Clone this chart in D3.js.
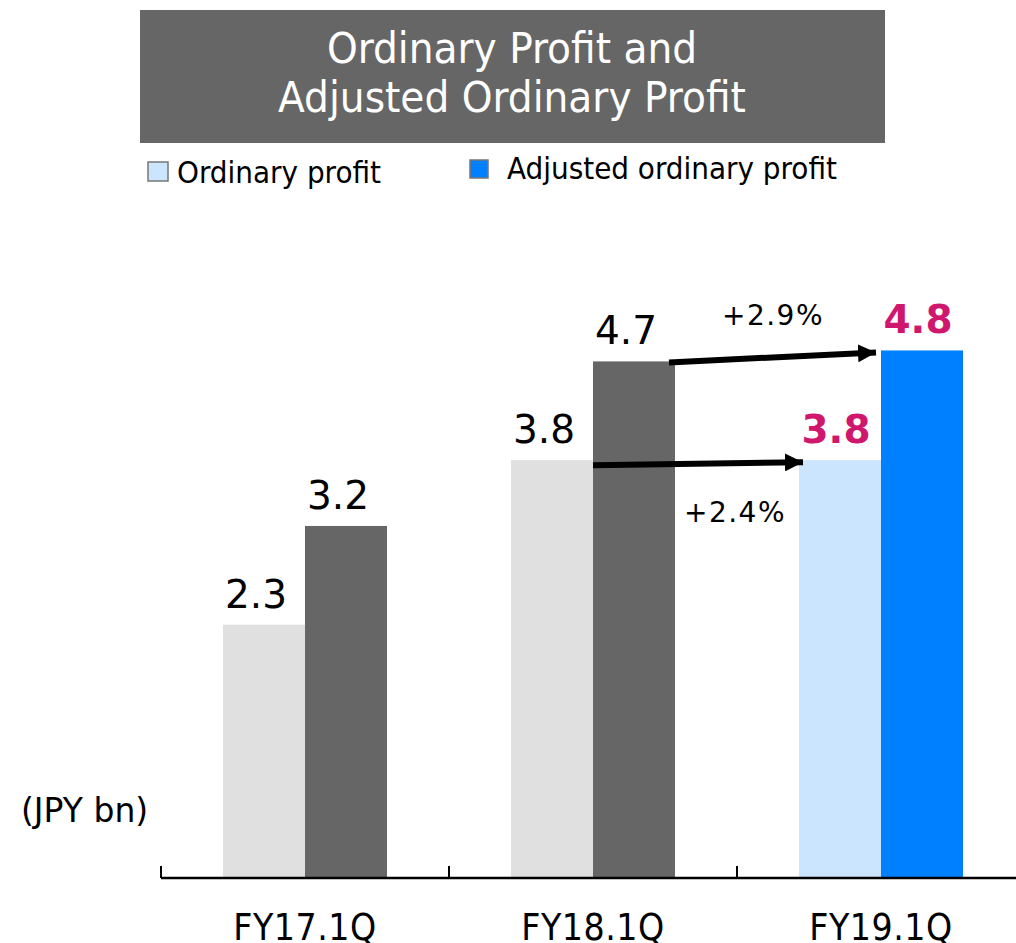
<!DOCTYPE html>
<html><head><meta charset="utf-8">
<script src="https://cdn.jsdelivr.net/npm/d3@7"></script>
<style>body{margin:0;background:#fff}svg{display:block}</style>
</head><body>
<script>
const categories = ["FY17.1Q", "FY18.1Q", "FY19.1Q"];
const ordinary = [2.3, 3.8, 3.8];
const adjusted = [3.2, 4.7, 4.8];
const growthLabels = ["+2.9%", "+2.4%"];
const titleLines = ["Ordinary Profit and", "Adjusted Ordinary Profit"];
const legendLabels = ["Ordinary profit", "Adjusted ordinary profit"];
const unitLabel = "(JPY bn)";

const W = 1016, H = 943;
const svg = d3.select("body").append("svg").attr("width", W).attr("height", H);
const defs = svg.append("defs");
defs.append("marker").attr("id", "ah").attr("viewBox", "0 0 10 10").attr("refX", 10).attr("refY", 5)
  .attr("markerWidth", 3).attr("markerHeight", 3).attr("orient", "auto").attr("markerUnits", "strokeWidth")
  .append("path").attr("d", "M0,0 L10,5 L0,10 Z").attr("fill", "#000");

const base = 877;
const x = d3.scaleBand().domain(categories).range([161, 1025]).paddingInner(0).paddingOuter(0);
const y = d3.scaleLinear().domain([0, 1]).range([base, base - 109.7]);
const bw = 82;

const lightCol = ["#e0e0e0", "#e0e0e0", "#cce5ff"];
const darkCol = ["#666666", "#666666", "#0080ff"];
const COND = "DejaVu Sans Condensed, DejaVu Sans";

// title box
svg.append("rect").attr("x", 140).attr("y", 10).attr("width", 745).attr("height", 133).attr("fill", "#666666");
svg.selectAll("text.title").data(titleLines).join("text").attr("class", "title")
  .attr("x", 512).attr("y", (d, i) => 63 + i * 49).attr("text-anchor", "middle")
  .attr("font-family", COND).attr("font-size", 43.5).attr("fill", "#fff").text(d => d);

// legend
svg.append("rect").attr("x", 148).attr("y", 162).attr("width", 20).attr("height", 19).attr("fill", "#cce5ff").attr("stroke", "#777").attr("stroke-width", 1.5);
svg.append("text").attr("x", 177).attr("y", 183).attr("font-family", COND).attr("font-size", 31).attr("fill", "#000").text(legendLabels[0]);
svg.append("rect").attr("x", 470).attr("y", 160).attr("width", 18).attr("height", 18).attr("fill", "#0080ff").attr("stroke", "#777").attr("stroke-width", 1.5);
svg.append("text").attr("x", 507).attr("y", 179).attr("font-family", COND).attr("font-size", 31).attr("fill", "#000").text(legendLabels[1]);

// bars
const cx = c => x(c) + x.bandwidth() / 2;
svg.selectAll("rect.ord").data(categories).join("rect").attr("class", "ord")
  .attr("x", c => cx(c) - bw).attr("width", bw)
  .attr("y", (c, i) => y(ordinary[i])).attr("height", (c, i) => base - y(ordinary[i]))
  .attr("fill", (c, i) => lightCol[i]);
svg.selectAll("rect.adj").data(categories).join("rect").attr("class", "adj")
  .attr("x", c => cx(c)).attr("width", bw)
  .attr("y", (c, i) => y(adjusted[i])).attr("height", (c, i) => base - y(adjusted[i]))
  .attr("fill", (c, i) => darkCol[i]);

// value labels
const isLast = i => i === categories.length - 1;
const shift = i => isLast(i) ? -4 : -8;
svg.selectAll("text.vo").data(categories).join("text").attr("class", "vo")
  .attr("x", (c, i) => cx(c) - bw / 2 + shift(i)).attr("y", (c, i) => y(ordinary[i]) - 17)
  .attr("text-anchor", "middle").attr("font-family", "DejaVu Sans").attr("font-size", 39)
  .attr("font-weight", (c, i) => isLast(i) ? "bold" : "normal")
  .attr("fill", (c, i) => isLast(i) ? "#d0176e" : "#000")
  .text((c, i) => ordinary[i].toFixed(1));
svg.selectAll("text.va").data(categories).join("text").attr("class", "va")
  .attr("x", (c, i) => cx(c) + bw / 2 + shift(i)).attr("y", (c, i) => y(adjusted[i]) - 17)
  .attr("text-anchor", "middle").attr("font-family", "DejaVu Sans").attr("font-size", 39)
  .attr("font-weight", (c, i) => isLast(i) ? "bold" : "normal")
  .attr("fill", (c, i) => isLast(i) ? "#d0176e" : "#000")
  .text((c, i) => adjusted[i].toFixed(1));

// arrows
const c1 = categories[1], c2 = categories[2];
svg.append("line").attr("x1", cx(c1) + bw - 6).attr("y1", y(adjusted[1]) + 1)
  .attr("x2", cx(c2) - 5).attr("y2", y(adjusted[2]) + 2)
  .attr("stroke", "#000").attr("stroke-width", 6).attr("marker-end", "url(#ah)");
svg.append("line").attr("x1", cx(c1)).attr("y1", y(ordinary[1]) + 5)
  .attr("x2", cx(c2) - bw + 4).attr("y2", y(ordinary[2]) + 2)
  .attr("stroke", "#000").attr("stroke-width", 6).attr("marker-end", "url(#ah)");

svg.append("text").attr("x", 773).attr("y", 325).attr("text-anchor", "middle").attr("letter-spacing", 1.5)
  .attr("font-family", "DejaVu Sans").attr("font-size", 28).text(growthLabels[0]);
svg.append("text").attr("x", 735).attr("y", 522).attr("text-anchor", "middle").attr("letter-spacing", 1.5)
  .attr("font-family", "DejaVu Sans").attr("font-size", 28).text(growthLabels[1]);

// unit
svg.append("text").attr("x", 21).attr("y", 822).attr("font-family", "DejaVu Sans").attr("font-size", 33).text(unitLabel);

// axis
svg.append("line").attr("x1", 161).attr("x2", W).attr("y1", base + 1).attr("y2", base + 1).attr("stroke", "#000").attr("stroke-width", 2.5);
svg.selectAll("line.tick").data(categories).join("line").attr("class", "tick")
  .attr("x1", c => x(c)).attr("x2", c => x(c)).attr("y1", base - 11).attr("y2", base + 1)
  .attr("stroke", "#000").attr("stroke-width", 2);
svg.selectAll("text.cat").data(categories).join("text").attr("class", "cat")
  .attr("x", c => cx(c)).attr("y", 940).attr("text-anchor", "middle").attr("letter-spacing", 0.5)
  .attr("font-family", COND).attr("font-size", 37).text(c => c);
</script>
</body></html>
